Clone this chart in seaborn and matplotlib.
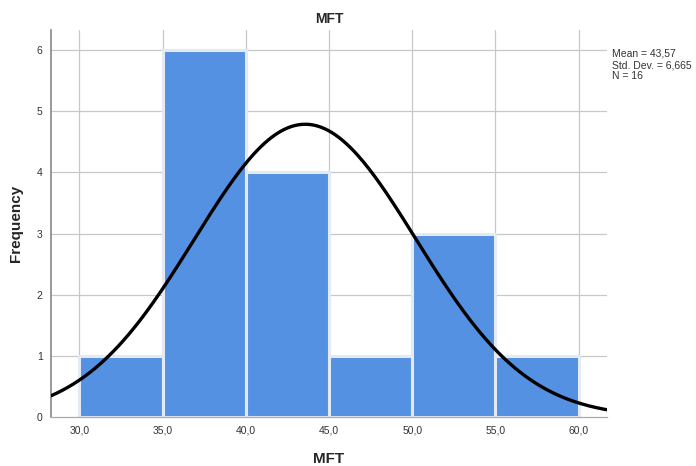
import numpy as np
import pandas as pd
import matplotlib
matplotlib.use("Agg")
import matplotlib.pyplot as plt
import seaborn as sns

bin_edges = [30, 35, 40, 45, 50, 55, 60]
counts = [1, 6, 4, 1, 3, 1]
mean_val = 43.57
std_val = 6.665
n_val = 16
x_ticks = [30, 35, 40, 45, 50, 55, 60]
x_tick_labels = ["30,0", "35,0", "40,0", "45,0", "50,0", "55,0", "60,0"]
stats_lines = ["Mean = 43,57", "Std. Dev. = 6,665", "N = 16"]

sns.set_style("white")
plt.rcParams['font.family'] = ['Arial', 'Liberation Sans', 'DejaVu Sans']

df = pd.DataFrame({
    'MFT': [(a + b) / 2 for a, b in zip(bin_edges[:-1], bin_edges[1:])],
    'count': counts,
})

fig = plt.figure(figsize=(6.96, 4.66), dpi=100)
ax = fig.add_axes([51 / 696, 1 - 417 / 466, (607 - 51) / 696, (417 - 30) / 466])

xlim = (28.3, 61.7)
ylim = (0, 6.33)
ax.set_xlim(*xlim)
ax.set_ylim(*ylim)

# grid drawn by hand so it sits behind the bars like SPSS
for t in x_ticks:
    ax.axvline(t, color='#c8c8c8', lw=0.9, zorder=0)
for t in range(1, 7):
    ax.axhline(t, color='#c8c8c8', lw=0.9, zorder=0)

sns.histplot(data=df, x='MFT', weights='count', bins=bin_edges, ax=ax,
             color='#5591e2', alpha=1, edgecolor='#e3eaf3', linewidth=2.2, zorder=2)

xs = np.linspace(xlim[0], xlim[1], 300)
bw = bin_edges[1] - bin_edges[0]
ys = n_val * bw / (std_val * np.sqrt(2 * np.pi)) * np.exp(-0.5 * ((xs - mean_val) / std_val) ** 2)
ax.plot(xs, ys, color='black', lw=2.4, zorder=3)

ax.set_xticks(x_ticks)
ax.set_xticklabels(x_tick_labels)
ax.set_yticks(range(0, 7))
ax.tick_params(axis='both', length=0, labelsize=7.5, colors='#333333', pad=6)

for s in ['top', 'right']:
    ax.spines[s].set_visible(False)
ax.spines['left'].set_color('#888888')
ax.spines['bottom'].set_color('#aaaaaa')
ax.spines['left'].set_linewidth(1.2)
ax.spines['bottom'].set_linewidth(0.9)

ax.set_xlabel('MFT', fontsize=11, fontweight='bold', labelpad=12)
ax.set_ylabel('Frequency', fontsize=11, fontweight='bold', labelpad=10)
ax.set_title('MFT', fontsize=10, fontweight='bold', pad=5)

fig.text(612 / 696, 1 - 65 / 466, "\n".join(stats_lines),
         fontsize=7.5, color='#333333', linespacing=1.15, va='center', ha='left')

fig.savefig('out.png', dpi=100)
